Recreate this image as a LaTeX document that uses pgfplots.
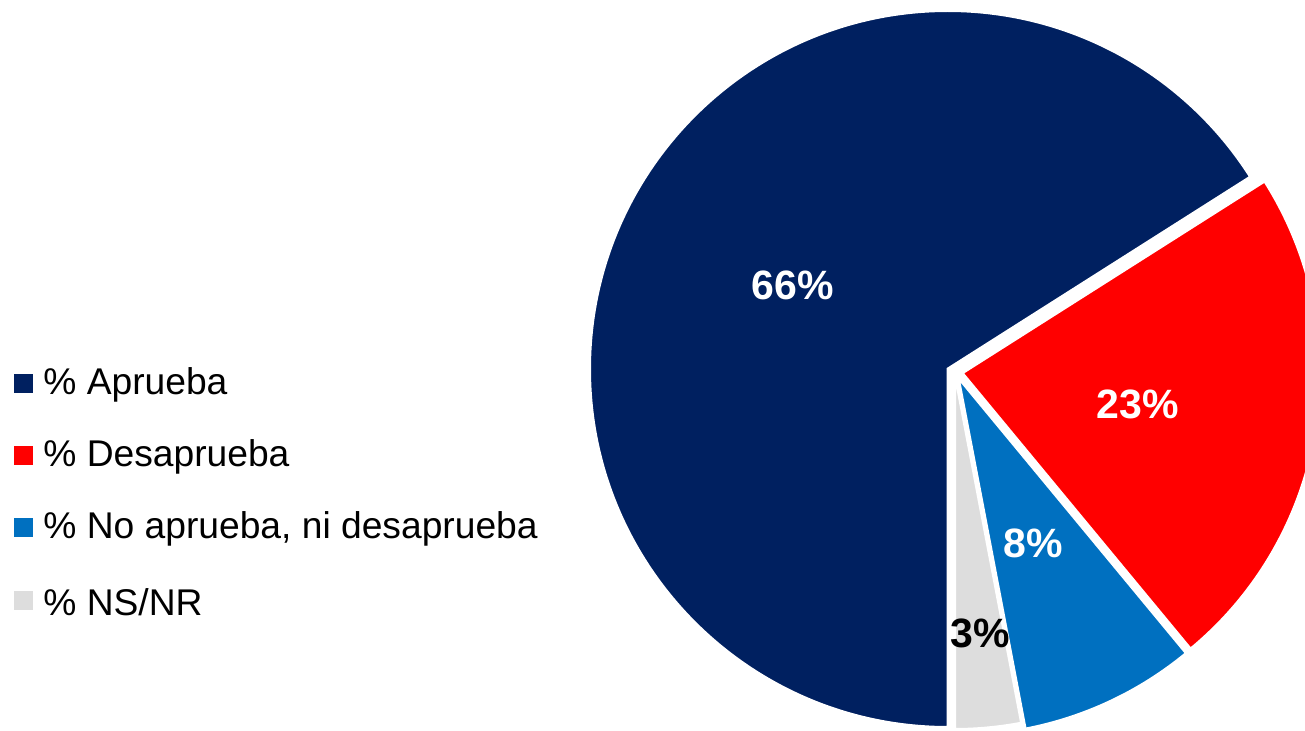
\documentclass[border=0pt]{standalone}
\usepackage{pgfplots}
\usepackage{pgfplotstable}
\pgfplotsset{compat=1.18}
\usepackage{fontspec}
\setmainfont{Liberation Sans}
\definecolor{cNavy}{RGB}{0,32,96}
\definecolor{cRed}{RGB}{255,0,0}
\definecolor{cBlue}{RGB}{0,112,192}
\definecolor{cGray}{RGB}{221,221,221}
\pgfplotstableread{
idx value
0 66
1 23
2 8
3 3
}\piedata
\begin{document}
\begin{tikzpicture}
\pgfplotstablegetelem{0}{value}\of\piedata \let\vA\pgfplotsretval
\pgfplotstablegetelem{1}{value}\of\piedata \let\vB\pgfplotsretval
\pgfplotstablegetelem{2}{value}\of\piedata \let\vC\pgfplotsretval
\pgfplotstablegetelem{3}{value}\of\piedata \let\vD\pgfplotsretval
\pgfmathsetmacro\aA{-90}
\pgfmathsetmacro\aB{\aA-3.6*\vA}
\pgfmathsetmacro\aC{\aB-3.6*\vB}
\pgfmathsetmacro\aD{\aC-3.6*\vC}
\pgfmathsetmacro\aE{\aD-3.6*\vD}
\def\R{179.25pt}
\begin{axis}[
  scale only axis, width=652.5pt, height=365pt,
  xmin=0, xmax=1305, ymin=0, ymax=730,
  hide axis, clip=true,
]
\addplot[draw=none] coordinates {(0,0) (1305,730)};
% navy
\filldraw[fill=cNavy, draw=white, line width=1.5pt]
  (axis cs:948,361) -- ([shift={(\aA:\R)}]axis cs:948,361) arc[start angle=\aA, end angle=\aB, radius=\R] -- cycle;
% gray
\filldraw[fill=cGray, draw=white, line width=1.5pt]
  (axis cs:954.5,359) -- ([shift={(\aD:\R)}]axis cs:954.5,359) arc[start angle=\aD, end angle=\aE, radius=\R] -- cycle;
% blue
\filldraw[fill=cBlue, draw=white, line width=1.5pt]
  (axis cs:958,353) -- ([shift={(\aC:\R)}]axis cs:958,353) arc[start angle=\aC, end angle=\aD, radius=\R] -- cycle;
% red (exploded)
\filldraw[fill=cRed, draw=white, line width=1.5pt]
  (axis cs:962,357) -- ([shift={(\aB:\R)}]axis cs:962,357) arc[start angle=\aB, end angle=\aC, radius=\R] -- cycle;
% labels
\node[text=white, font=\bfseries\fontsize{20.5}{24}\selectfont] at (axis cs:793,445) {66\%};
\node[text=white, font=\bfseries\fontsize{20.5}{24}\selectfont] at (axis cs:1138,326) {23\%};
\node[text=white, font=\bfseries\fontsize{20.5}{24}\selectfont] at (axis cs:1033,187) {8\%};
\node[text=black, font=\bfseries\fontsize{20.5}{24}\selectfont] at (axis cs:980,97) {3\%};
% legend
\fill[cNavy] (axis cs:14,337.5) rectangle (axis cs:33,356.5);
\fill[cRed] (axis cs:14,265.5) rectangle (axis cs:33,284.5);
\fill[cBlue] (axis cs:14,193.5) rectangle (axis cs:33,212.5);
\fill[cGray] (axis cs:14,120.5) rectangle (axis cs:33,139.5);
\node[anchor=west, inner sep=0pt, font=\fontsize{18.6}{22}\selectfont] at (axis cs:43,345) {\% Aprueba};
\node[anchor=west, inner sep=0pt, font=\fontsize{18.6}{22}\selectfont] at (axis cs:43,273) {\% Desaprueba};
\node[anchor=west, inner sep=0pt, font=\fontsize{18.6}{22}\selectfont] at (axis cs:43,201) {\% No aprueba, ni desaprueba};
\node[anchor=west, inner sep=0pt, font=\fontsize{18.6}{22}\selectfont] at (axis cs:43,128) {\% NS/NR};
\end{axis}
\pgfresetboundingbox
\useasboundingbox (0,0) rectangle (652.5pt,365pt);
\end{tikzpicture}
\end{document}
